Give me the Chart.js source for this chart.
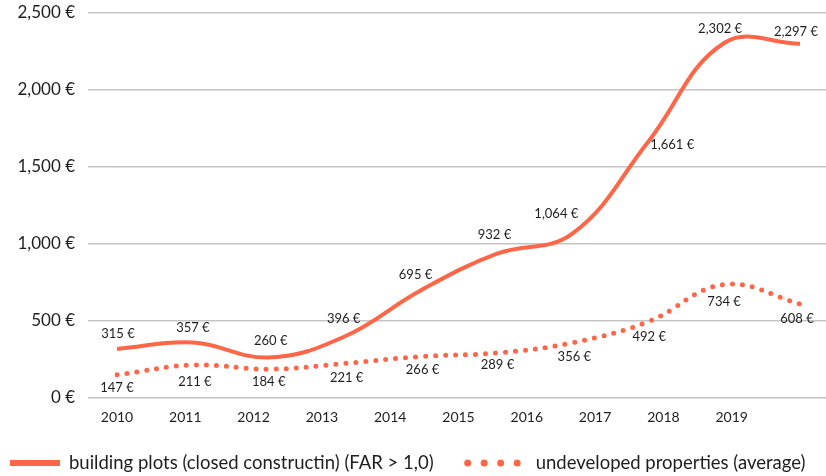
<!DOCTYPE html>
<html>
<head>
<meta charset="utf-8">
<script src="https://cdn.jsdelivr.net/npm/chart.js@4"></script>
<style>
  body { margin: 0; background: #fff; }
  #wrap { width: 826px; height: 476px; position: relative; }
</style>
</head>
<body>
<div id="wrap"><canvas id="prices"></canvas></div>
<script>
// data
const periods = ['2010', '2011', '2012', '2013', '2014', '2015', '2016', '2017', '2018', '2019'];
const yearTicks = ['2010', '2011', '2012', '2013', '2014', '2015', '2016', '2017', '2018', '2019', ''];
const buildingPlots = [315, 357, 260, 396, 695, 932, 1064, 1661, 2302, 2297];
const undeveloped = [147, 211, 184, 221, 266, 289, 356, 492, 734, 608];

// where each value label sits relative to its point (dx, dy)
const buildingLabelShift = [[1, -15], [0, -15], [2, -17], [-1, -18], [-5, -16], [-2, -19], [-16, -20], [24, 3], [-4, -14], [-4, -12]];
const undevelopedLabelShift = [[0, 13], [2, 17], [0, 13], [2, 14], [2, 13], [1, 12], [2, 14], [1, 15], [0, 17], [-3, 15]];

const coral = '#FF6647';
const textColor = '#1e1e1e';
const gridColor = '#c4c4c4';
const fontFamily = 'Lato, "Noto Sans", sans-serif';

const euro = v => Number(v).toLocaleString('en-US') + ' €';

const valueLabels = {
    id: 'valueLabels',
    afterDatasetsDraw(chart) {
        const ctx = chart.ctx;
        const shifts = [buildingLabelShift, undevelopedLabelShift];
        ctx.save();
        ctx.font = '13px ' + fontFamily;
        ctx.fillStyle = textColor;
        ctx.textAlign = 'center';
        ctx.textBaseline = 'middle';
        chart.data.datasets.forEach((ds, i) => {
            chart.getDatasetMeta(i).data.forEach((pt, j) => {
                const [dx, dy] = shifts[i][j];
                ctx.fillText(euro(ds.data[j]), pt.x + dx, pt.y + dy);
            });
        });
        ctx.restore();
    }
};

// legend row at the bottom: solid bar for the first series, big dots for the second
const legendRow = {
    id: 'legendRow',
    afterDraw(chart) {
        const ctx = chart.ctx;
        const y = chart.height - 13;
        let x = 10;
        ctx.save();
        ctx.font = '18.5px ' + fontFamily;
        ctx.fillStyle = textColor;
        ctx.textBaseline = 'middle';
        chart.data.datasets.forEach((ds, i) => {
            ctx.strokeStyle = ds.borderColor;
            ctx.beginPath();
            if (i === 0) {
                ctx.lineWidth = 6;
                ctx.lineCap = 'butt';
                ctx.setLineDash([]);
            } else {
                ctx.lineWidth = 7;
                ctx.lineCap = 'round';
                ctx.setLineDash([0, 16.5]);
            }
            ctx.moveTo(x, y);
            ctx.lineTo(x + 50, y);
            ctx.stroke();
            const tx = x + (i === 0 ? 59 : 68);
            ctx.fillText(ds.label, tx, y);
            x = tx + ctx.measureText(ds.label).width + 34;
        });
        ctx.restore();
    }
};

const ctx = document.getElementById('prices');
const pricesChart = new Chart(ctx, {
    type: 'line',
    data: {
        labels: periods,
        datasets: [
            {
                label: 'building plots (closed constructin) (FAR > 1,0)',
                data: buildingPlots,
                borderColor: coral,
                backgroundColor: coral,
                borderWidth: 4,
                tension: 0.4,
                pointRadius: 0,
                fill: false
            },
            {
                label: 'undeveloped properties (average)',
                data: undeveloped,
                borderColor: coral,
                backgroundColor: coral,
                borderWidth: 5,
                borderDash: [0, 10],
                borderCapStyle: 'round',
                tension: 0.4,
                pointRadius: 0,
                fill: false
            }
        ]
    },
    options: {
        responsive: true,
        maintainAspectRatio: false,
        animation: false,
        layout: {
            padding: { top: 12.5, bottom: 50.5, left: 0, right: 0 }
        },
        plugins: {
            legend: { display: false },
            tooltip: { enabled: false }
        },
        scales: {
            x: {
                type: 'category',
                offset: false,
                display: false
            },
            years: {
                type: 'category',
                position: 'bottom',
                labels: yearTicks,
                offset: false,
                grid: { display: false, drawTicks: false },
                border: { display: false },
                ticks: {
                    color: textColor,
                    font: { family: fontFamily, size: 14 },
                    padding: 12,
                    autoSkip: false,
                    maxRotation: 0
                },
                afterFit: scale => {
                    scale.height = 28;
                    scale.paddingLeft = 0;
                    scale.paddingRight = 0;
                }
            },
            y: {
                position: 'left',
                min: 0,
                max: 2500,
                grid: { color: gridColor, lineWidth: 1.5, tickLength: 29 },
                border: { display: false },
                ticks: {
                    stepSize: 500,
                    padding: 13,
                    color: textColor,
                    font: { family: fontFamily, size: 17 },
                    callback: v => euro(v)
                },
                afterFit: scale => {
                    scale.width = 117;
                    scale.paddingTop = 0;
                    scale.paddingBottom = 0;
                }
            },
            yRight: {
                position: 'right',
                min: 0,
                max: 2500,
                grid: { color: gridColor, lineWidth: 1.5, tickLength: 26, drawOnChartArea: false },
                border: { display: false },
                ticks: { stepSize: 500, display: false },
                afterFit: scale => {
                    scale.width = 26;
                    scale.paddingTop = 0;
                    scale.paddingBottom = 0;
                }
            }
        }
    },
    plugins: [valueLabels, legendRow]
});
</script>
</body>
</html>
